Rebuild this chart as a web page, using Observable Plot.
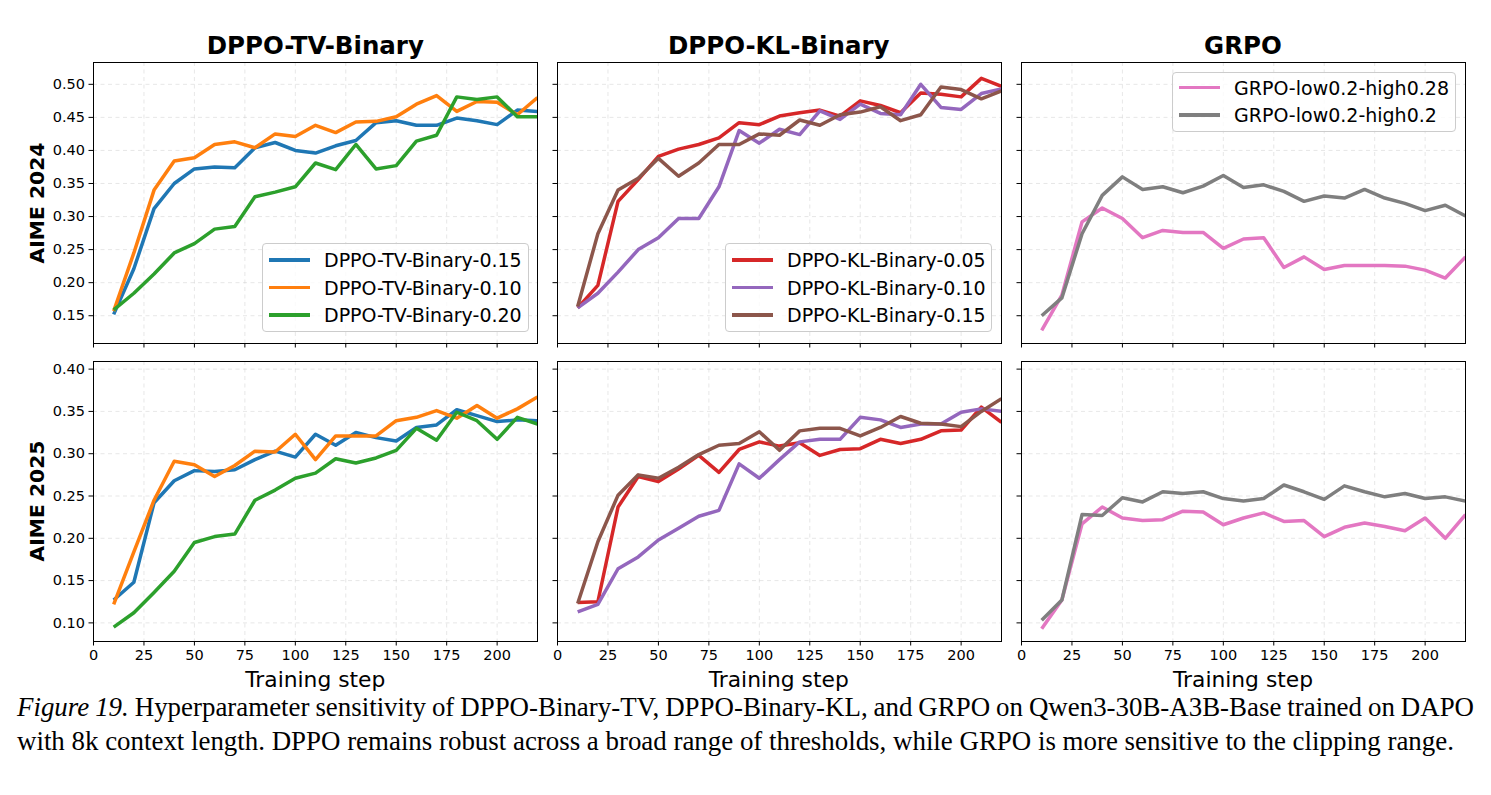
<!DOCTYPE html>
<html>
<head>
<meta charset="utf-8">
<script src="https://cdn.jsdelivr.net/npm/d3@7"></script>
<script src="https://cdn.jsdelivr.net/npm/@observablehq/plot@0.6"></script>
<style>
  body { margin: 0; background: #fff; }
  #fig { position: relative; width: 1491px; height: 795px; overflow: hidden; background: #fff;
         font-family: "DejaVu Sans", sans-serif; color: #000; }
  .abs { position: absolute; white-space: nowrap; }
  .ptitle { font-weight: bold; font-size: 24.5px; transform: translate(-50%, -50%); }
  .ylab { font-weight: bold; font-size: 20.3px; transform: translate(-50%, -50%) rotate(-90deg); }
  .xlab { font-size: 21.8px; transform: translate(-50%, -50%); }
  .legend { position: absolute; box-sizing: border-box; border: 1px solid #cccccc; border-radius: 4px;
            background: rgba(255,255,255,0.8); }
  .legend .swatch { position: absolute; height: 3.5px; width: 41px; }
  .legend .label { position: absolute; font-size: 19px; transform: translateY(-50%); white-space: nowrap; }
  .caption { position: absolute; left: 17px; font-family: "Liberation Serif", "Times New Roman", serif;
             font-size: 26.9px; line-height: 31px; white-space: nowrap; }
</style>
</head>
<body>
<div id="fig"></div>
<script>
// Evaluation steps shared by every run
const steps = [10, 20, 30, 40, 50, 60, 70, 80, 90, 100, 110, 120, 130, 140, 150, 160, 170, 180, 190, 200, 210, 220];

// Axis ticks
const xTickValues = [0, 25, 50, 75, 100, 125, 150, 175, 200];
const yTicks2024 = [0.15, 0.20, 0.25, 0.30, 0.35, 0.40, 0.45, 0.50];
const yTicks2025 = [0.10, 0.15, 0.20, 0.25, 0.30, 0.35, 0.40];

// Titles and labels
const panelTitles = ["DPPO-TV-Binary", "DPPO-KL-Binary", "GRPO"];
const rowLabels = ["AIME 2024", "AIME 2025"];
const xLabel = "Training step";

// Run names and colours
const tvNames = ["DPPO-TV-Binary-0.15", "DPPO-TV-Binary-0.10", "DPPO-TV-Binary-0.20"];
const klNames = ["DPPO-KL-Binary-0.05", "DPPO-KL-Binary-0.10", "DPPO-KL-Binary-0.15"];
const grpoNames = ["GRPO-low0.2-high0.28", "GRPO-low0.2-high0.2"];
const tvColors = ["#1f77b4", "#ff7f0e", "#2ca02c"];
const klColors = ["#d62728", "#9467bd", "#8c564b"];
const grpoColors = ["#e377c2", "#7f7f7f"];

// AIME 2024 accuracy
const tv015_2024 = [0.152, 0.221, 0.312, 0.350, 0.372, 0.375, 0.374, 0.404, 0.412, 0.400, 0.396, 0.407, 0.415, 0.442, 0.445, 0.438, 0.438, 0.449, 0.445, 0.439, 0.461, 0.459];
const tv010_2024 = [0.157, 0.245, 0.340, 0.384, 0.389, 0.409, 0.413, 0.404, 0.425, 0.421, 0.438, 0.427, 0.443, 0.444, 0.451, 0.470, 0.483, 0.459, 0.474, 0.473, 0.454, 0.480];
const tv020_2024 = [0.159, 0.184, 0.213, 0.245, 0.259, 0.281, 0.285, 0.330, 0.337, 0.345, 0.381, 0.371, 0.409, 0.372, 0.377, 0.414, 0.423, 0.481, 0.477, 0.481, 0.451, 0.451];
const kl005_2024 = [0.162, 0.196, 0.323, 0.356, 0.391, 0.402, 0.409, 0.419, 0.442, 0.439, 0.452, 0.457, 0.461, 0.452, 0.475, 0.468, 0.457, 0.487, 0.485, 0.481, 0.509, 0.497];
const kl010_2024 = [0.162, 0.184, 0.216, 0.250, 0.268, 0.297, 0.297, 0.345, 0.430, 0.411, 0.432, 0.424, 0.460, 0.447, 0.470, 0.456, 0.454, 0.500, 0.465, 0.462, 0.486, 0.493];
const kl015_2024 = [0.164, 0.274, 0.340, 0.358, 0.388, 0.361, 0.381, 0.409, 0.409, 0.425, 0.423, 0.446, 0.438, 0.454, 0.458, 0.466, 0.445, 0.454, 0.496, 0.492, 0.478, 0.490];
const grpo028_2024 = [0.128, 0.181, 0.292, 0.313, 0.297, 0.268, 0.279, 0.276, 0.276, 0.252, 0.266, 0.268, 0.223, 0.239, 0.220, 0.226, 0.226, 0.226, 0.225, 0.219, 0.207, 0.239];
const grpo020_2024 = [0.150, 0.177, 0.274, 0.332, 0.360, 0.341, 0.345, 0.336, 0.346, 0.362, 0.344, 0.348, 0.338, 0.323, 0.331, 0.328, 0.341, 0.328, 0.320, 0.309, 0.317, 0.301];

// AIME 2025 accuracy
const tv015_2025 = [0.127, 0.148, 0.242, 0.268, 0.280, 0.279, 0.281, 0.293, 0.303, 0.296, 0.323, 0.310, 0.325, 0.319, 0.315, 0.331, 0.334, 0.352, 0.345, 0.338, 0.340, 0.339];
const tv010_2025 = [0.122, 0.184, 0.245, 0.291, 0.287, 0.273, 0.286, 0.303, 0.302, 0.323, 0.293, 0.321, 0.321, 0.321, 0.339, 0.343, 0.351, 0.342, 0.357, 0.342, 0.353, 0.367];
const tv020_2025 = [0.095, 0.112, 0.136, 0.161, 0.195, 0.202, 0.205, 0.245, 0.257, 0.271, 0.277, 0.294, 0.289, 0.295, 0.304, 0.330, 0.316, 0.349, 0.339, 0.317, 0.343, 0.335];
const kl005_2025 = [0.124, 0.125, 0.237, 0.273, 0.267, 0.282, 0.298, 0.278, 0.305, 0.314, 0.309, 0.313, 0.298, 0.305, 0.306, 0.317, 0.312, 0.317, 0.327, 0.328, 0.355, 0.337];
const kl010_2025 = [0.113, 0.122, 0.164, 0.178, 0.198, 0.212, 0.226, 0.233, 0.288, 0.271, 0.293, 0.314, 0.317, 0.317, 0.343, 0.340, 0.331, 0.335, 0.335, 0.349, 0.353, 0.350];
const kl015_2025 = [0.123, 0.196, 0.251, 0.275, 0.271, 0.284, 0.299, 0.310, 0.312, 0.326, 0.304, 0.327, 0.330, 0.330, 0.321, 0.331, 0.344, 0.336, 0.335, 0.332, 0.350, 0.365];
const grpo028_2025 = [0.093, 0.127, 0.217, 0.237, 0.224, 0.221, 0.222, 0.232, 0.231, 0.216, 0.224, 0.230, 0.220, 0.221, 0.202, 0.213, 0.218, 0.214, 0.209, 0.224, 0.200, 0.228];
const grpo020_2025 = [0.103, 0.127, 0.228, 0.227, 0.248, 0.243, 0.255, 0.253, 0.255, 0.247, 0.244, 0.247, 0.263, 0.255, 0.246, 0.262, 0.255, 0.249, 0.253, 0.247, 0.249, 0.244];

// Caption
const captionLabel = "Figure 19.";
const captionLine1 = "Hyperparameter sensitivity of DPPO-Binary-TV, DPPO-Binary-KL, and GRPO on Qwen3-30B-A3B-Base trained on DAPO";
const captionLine2 = "with 8k context length. DPPO remains robust across a broad range of thresholds, while GRPO is more sensitive to the clipping range.";

// ---- layout of the 2 x 3 grid (frame positions in page pixels) ----
const colLeft = [93.3, 556.7, 1021];
const frameW = 444;
const rowTop = [62, 361];
const rowH = [281, 280];
const yDomains = [[0.108, 0.533], [0.078, 0.409]];
const rowYTicks = [yTicks2024, yTicks2025];
const M = {left: 70, right: 10, top: 10, bottom: 50};

const fig = document.getElementById("fig");

const panels = [
  {row: 0, col: 0, names: tvNames, colors: tvColors, series: [tv015_2024, tv010_2024, tv020_2024]},
  {row: 0, col: 1, names: klNames, colors: klColors, series: [kl005_2024, kl010_2024, kl015_2024]},
  {row: 0, col: 2, names: grpoNames, colors: grpoColors, series: [grpo028_2024, grpo020_2024]},
  {row: 1, col: 0, names: tvNames, colors: tvColors, series: [tv015_2025, tv010_2025, tv020_2025]},
  {row: 1, col: 1, names: klNames, colors: klColors, series: [kl005_2025, kl010_2025, kl015_2025]},
  {row: 1, col: 2, names: grpoNames, colors: grpoColors, series: [grpo028_2025, grpo020_2025]}
];

const gridStyle = {stroke: "#b0b0b0", strokeOpacity: 0.35, strokeWidth: 0.9, strokeDasharray: "4,3.5"};

for (const p of panels) {
  const rows = p.names.flatMap((name, i) => steps.map((s, j) => ({step: s, value: p.series[i][j], run: name})));
  const showX = p.row === 1;
  const showY = p.col === 0;
  const chart = Plot.plot({
    width: M.left + frameW + M.right,
    height: M.top + rowH[p.row] + M.bottom,
    marginLeft: M.left, marginRight: M.right, marginTop: M.top, marginBottom: M.bottom,
    style: {fontFamily: "DejaVu Sans", fontSize: "14.5px", color: "#000", background: "transparent", overflow: "visible"},
    x: {domain: [0, 220]},
    y: {domain: yDomains[p.row]},
    color: {domain: p.names, range: p.colors},
    marks: [
      Plot.gridX(xTickValues, gridStyle),
      Plot.gridY(rowYTicks[p.row], gridStyle),
      Plot.line(rows, {x: "step", y: "value", z: "run", stroke: "run", strokeWidth: 3.5,
                       strokeLinejoin: "round", strokeLinecap: "butt", clip: true}),
      Plot.frame({stroke: "#000", strokeWidth: 1}),
      Plot.axisX(xTickValues, {tickSize: 4.5, tickPadding: 4, label: null, fontSize: 14.5,
                               tickFormat: showX ? (d => String(d)) : (() => "")}),
      Plot.axisY(rowYTicks[p.row], {tickSize: 4.5, tickPadding: 4, label: null, fontSize: 14.5,
                                    tickFormat: showY ? (d => d.toFixed(2)) : (() => "")})
    ]
  });
  chart.style.position = "absolute";
  chart.style.left = (colLeft[p.col] - M.left) + "px";
  chart.style.top = (rowTop[p.row] - M.top) + "px";
  fig.appendChild(chart);
}

// Column titles
panelTitles.forEach((t, c) => {
  const d = document.createElement("div");
  d.className = "abs ptitle";
  d.textContent = t;
  d.style.left = (colLeft[c] + frameW / 2) + "px";
  d.style.top = "45px";
  fig.appendChild(d);
});

// Row labels
rowLabels.forEach((t, r) => {
  const d = document.createElement("div");
  d.className = "abs ylab";
  d.textContent = t;
  d.style.left = "37px";
  d.style.top = (rowTop[r] + rowH[r] / 2) + "px";
  fig.appendChild(d);
});

// x-axis labels
for (let c = 0; c < 3; c++) {
  const d = document.createElement("div");
  d.className = "abs xlab";
  d.textContent = xLabel;
  d.style.left = (colLeft[c] + frameW / 2) + "px";
  d.style.top = "679px";
  fig.appendChild(d);
}

// Legends
function addLegend(left, top, width, height, names, colors, firstY, rowStep) {
  const box = document.createElement("div");
  box.className = "legend";
  Object.assign(box.style, {left: left + "px", top: top + "px", width: width + "px", height: height + "px"});
  names.forEach((n, i) => {
    const cy = firstY + i * rowStep;
    const sw = document.createElement("div");
    sw.className = "swatch";
    Object.assign(sw.style, {left: "5.5px", top: (cy - 1.75) + "px", background: colors[i]});
    box.appendChild(sw);
    const lb = document.createElement("div");
    lb.className = "label";
    lb.textContent = n;
    Object.assign(lb.style, {left: "61px", top: cy + "px"});
    box.appendChild(lb);
  });
  fig.appendChild(box);
}
addLegend(262, 243, 267, 89, tvNames, tvColors, 16, 27.6);
addLegend(725, 243, 267, 89, klNames, klColors, 16, 27.6);
addLegend(1172, 72, 284, 60, grpoNames, grpoColors, 14.5, 27.3);

// Caption: first line is stretched to the full text width, second line is left-aligned
const captionWidth = 1457;
const c1 = document.createElement("div");
c1.className = "caption";
c1.style.top = "691.5px";
const em = document.createElement("i");
em.textContent = captionLabel;
c1.appendChild(em);
c1.appendChild(document.createTextNode(" " + captionLine1));
fig.appendChild(c1);
const natural = c1.getBoundingClientRect().width;
const gaps = (captionLabel + " " + captionLine1).split(" ").length - 1;
c1.style.wordSpacing = ((captionWidth - natural) / gaps) + "px";

const c2 = document.createElement("div");
c2.className = "caption";
c2.style.top = "725.5px";
c2.textContent = captionLine2;
fig.appendChild(c2);
</script>
</body>
</html>
